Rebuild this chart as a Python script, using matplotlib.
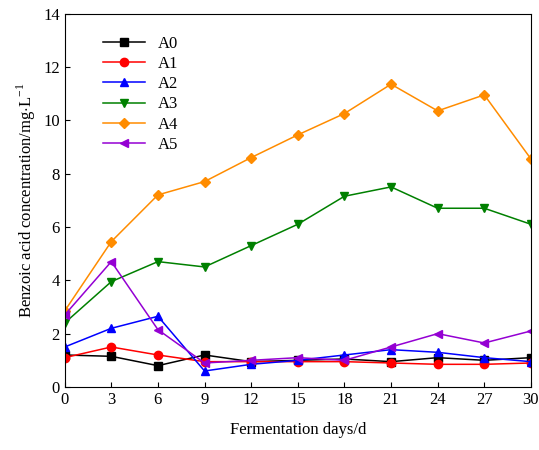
import matplotlib
matplotlib.use('Agg')
from matplotlib import pyplot as plt

dias = [0, 3, 6, 9, 12, 15, 18, 21, 24, 27, 30]
A0 = [1.2, 1.15, 0.8, 1.2, 0.95, 1.0, 1.05, 0.95, 1.1, 1.0, 1.1]
A1 = [1.1, 1.5, 1.2, 0.95, 0.95, 0.95, 0.95, 0.9, 0.85, 0.85, 0.9]
A2 = [1.5, 2.2, 2.65, 0.6, 0.85, 1.0, 1.2, 1.4, 1.3, 1.1, 0.95]
A3 = [2.4, 3.95, 4.7, 4.5, 5.3, 6.1, 7.15, 7.5, 6.7, 6.7, 6.1]
A4 = [2.85, 5.45, 7.2, 7.7, 8.6, 9.45, 10.25, 11.35, 10.35, 10.95, 8.55]
A5 = [2.7, 4.7, 2.15, 0.9, 1.0, 1.1, 1.0, 1.5, 2.0, 1.65, 2.1]

plt.rcParams['font.family'] = 'Liberation Serif'
plt.rcParams['mathtext.fontset'] = 'custom'
plt.rcParams['mathtext.rm'] = 'Liberation Serif'
fig, ax = plt.subplots(figsize=(5.39, 4.5), dpi=100)

series = [('A0', A0, 'black', 's'), ('A1', A1, 'red', 'o'), ('A2', A2, 'blue', '^'),
          ('A3', A3, 'green', 'v'), ('A4', A4, 'darkorange', 'D'), ('A5', A5, 'darkviolet', '<')]
for nombre, datos, color, marca in series:
    ax.plot(dias, datos, color=color, marker=marca, markersize=6 if marca != 'D' else 5,
            linewidth=1.1, label=nombre)

ax.set_xlim(0, 30)
ax.set_ylim(0, 14)
ax.set_xticks(dias)
ax.set_yticks(range(0, 15, 2))
ax.tick_params(labelsize=12, direction='in')
ax.set_xlabel('Fermentation days/d', fontsize=12, labelpad=10)
ax.set_ylabel('Benzoic acid concentration/mg$\\cdot$L$^{\\mathrm{-1}}$', fontsize=12)
ax.legend(loc='upper left', frameon=False, fontsize=12, handlelength=2.5,
          bbox_to_anchor=(0.05, 0.98), labelspacing=0.25)
fig.subplots_adjust(left=0.12, right=0.985, top=0.97, bottom=0.14)
fig.savefig('out.png')
